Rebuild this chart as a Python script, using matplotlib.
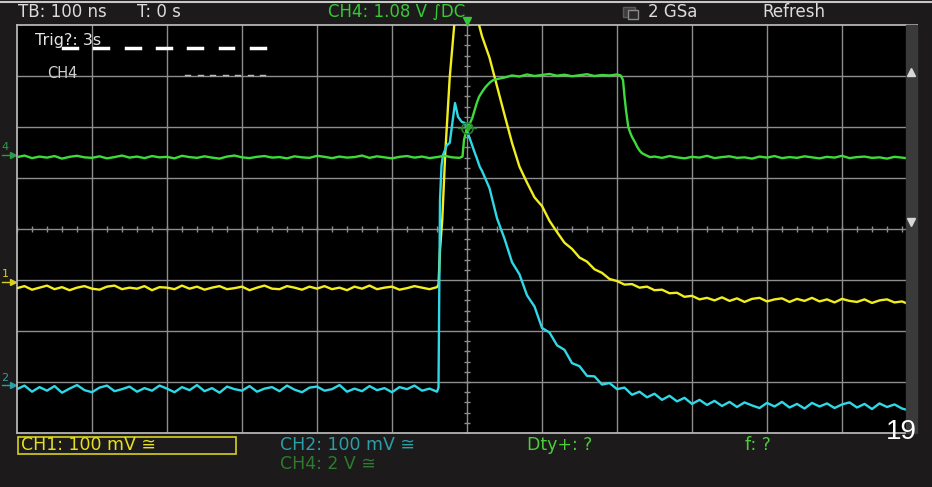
import numpy as np
import matplotlib.pyplot as plt
from matplotlib.patches import Rectangle
from matplotlib.lines import Line2D
from matplotlib.transforms import blended_transform_factory

# ---- scope settings ----
tb_ns = 100
ch1_scale, ch2_scale, ch4_scale = 100, 100, 2     # mV/div, mV/div, V/div
ch1_pos, ch2_pos, ch4_pos = -1.04, -3.06, 1.45     # ground markers (div)
trig_level = 1.08                                  # V on CH4

# ---- CH1 (yellow), mV ----
ch1_t = np.concatenate([np.arange(-600, -39, 10),
                        [-38, -36, -33, -29, -23, -17, -10, -4, 2, 8, 15],
                        np.arange(20, 581, 10), [585]])
ch1_mv = [-12, -8, -15, -11, -7, -14, -10, -16, -11, -8,
          -13, -15, -9, -7, -14, -11, -13, -8, -16, -10,
          -11, -14, -7, -13, -9, -15, -11, -8, -14, -12,
          -9, -16, -11, -7, -13, -14, -8, -11, -15, -9,
          -13, -8, -14, -11, -16, -9, -13, -7, -14, -11,
          -9, -15, -12, -8, -11, -14, -10,
          -5, 63, 122, 253, 402, 504, 575, 605, 598, 560, 510,
          482, 440, 384, 328, 273, 226, 195, 166, 149, 120,
          98, 77, 65, 48, 40, 25, 18, 6, 2, -5,
          -4, -11, -9, -16, -15, -22, -21, -29, -27, -34,
          -31, -36, -30, -37, -32, -39, -33, -31, -38, -34,
          -32, -39, -33, -37, -31, -38, -34, -40, -33, -37,
          -39, -34, -41, -36, -34, -40, -38,
          -41]

# ---- CH2 (cyan), mV ----
ch2_t = np.concatenate([np.arange(-600, -39, 10),
                        [-38, -37, -36, -34, -32, -29, -27, -23, -19, -16,
                         -14, -12, -9, -7, -3, 1, 5, 9, 13, 17],
                        np.arange(20, 581, 10), [585]])
ch2_mv = [-8, -1, -13, -4, -11, -2, -15, -7, 0, -10,
          -14, -5, -1, -12, -8, -3, -13, -6, -11, -1,
          -7, -14, -4, -10, 0, -12, -6, -15, -3, -8,
          -11, -2, -13, -7, -4, -12, -1, -9, -14, -5,
          -3, -11, -8, 0, -13, -7, -12, -2, -10, -6,
          -14, -4, -8, -1, -11, -7, -13,
          -5, 167, 363, 430, 451, 462, 470, 475, 520, 553,
          540, 526, 520, 516, 514, 494, 478, 461, 445, 428,
          420, 386, 327, 287, 241, 217, 176, 154, 112, 103,
          78, 69, 43, 37, 18, 17, 1, 4, -8, -5,
          -19, -13, -24, -17, -29, -21, -32, -25, -37, -29,
          -39, -31, -41, -33, -43, -34, -40, -45, -35, -42,
          -33, -44, -37, -46, -35, -42, -36, -45, -38, -34,
          -44, -37, -47, -36, -43, -38, -46,
          -48]

# ---- CH4 (green), V ----
ch4_t = np.concatenate([np.arange(-600, -9, 10),
                        [-6, -4, -1, 1, 4, 7, 10, 13, 16, 20, 24, 27, 31, 35, 40],
                        np.arange(50, 201, 10),
                        [205, 208, 210, 212, 215, 218, 220, 224, 227, 230, 233, 238, 244],
                        np.arange(250, 581, 10), [585]])
ch4_v = [-0.08, -0.02, -0.12, -0.06, -0.10, -0.04, -0.14, -0.07, -0.03, -0.09,
         -0.11, -0.05, -0.13, -0.08, -0.02, -0.10, -0.06, -0.12, -0.04, -0.09,
         -0.07, -0.13, -0.03, -0.08, -0.11, -0.05, -0.10, -0.14, -0.06, -0.02,
         -0.09, -0.12, -0.07, -0.04, -0.10, -0.08, -0.13, -0.05, -0.09, -0.11,
         -0.03, -0.07, -0.12, -0.06, -0.10, -0.08, -0.02, -0.11, -0.05, -0.09,
         -0.13, -0.07, -0.04, -0.10, -0.06, -0.12, -0.08, -0.03, -0.09, -0.11,
         -0.06, 0.59, 0.95, 1.10, 1.25, 1.45, 1.75, 2.04, 2.28, 2.47,
         2.64, 2.74, 2.86, 2.94, 2.98,
         3.04, 3.12, 3.08, 3.16, 3.10, 3.14, 3.18, 3.11, 3.15, 3.09,
         3.13, 3.17, 3.10, 3.14, 3.12, 3.16,
         3.12, 2.94, 2.30, 1.76, 1.10, 0.85, 0.71, 0.50, 0.32, 0.18,
         0.08, 0.00, -0.08,
         -0.06, -0.11, -0.04, -0.09, -0.13, -0.07, -0.10, -0.03, -0.12, -0.08,
         -0.05, -0.11, -0.09, -0.14, -0.06, -0.10, -0.04, -0.12, -0.08, -0.11,
         -0.05, -0.09, -0.13, -0.07, -0.10, -0.03, -0.12, -0.08, -0.06, -0.11,
         -0.09, -0.14, -0.07, -0.10,
         -0.12]

W, H = 932, 487
bg = '#1c1a1a'
grid_c = '#8e8e8e'
yel, cyan, grn = '#f2ee1e', '#2fd8e6', '#3ddc3a'

fig = plt.figure(figsize=(W / 100, H / 100), dpi=100, facecolor=bg)
ax = fig.add_axes([17 / W, 54 / H, 900 / W, 408 / H], facecolor='black')
ax.set_xlim(-6 * tb_ns, 6 * tb_ns)
ax.set_ylim(-4, 4)
ax.set_xticks([])
ax.set_yticks([])
for s in ax.spines.values():
    s.set_color('#b4b4b4')
    s.set_linewidth(1.3)

# graticule
for x in range(-5, 6):
    ax.axvline(x * tb_ns, color=grid_c, lw=1, zorder=1)
for y in range(-3, 4):
    ax.axhline(y, color=grid_c, lw=1, zorder=1)
ax.plot(np.arange(-600, 601, 20), np.zeros(61), ls='', marker='|', ms=5, mew=1, color=grid_c, zorder=1)
ax.plot(np.zeros(41), np.arange(-4, 4.01, 0.2), ls='', marker='_', ms=5, mew=1, color=grid_c, zorder=1)

# traces
ax.plot(ch1_t, ch1_pos + np.array(ch1_mv) / ch1_scale, color=yel, lw=1.7, zorder=3)
ax.plot(ch2_t, ch2_pos + np.array(ch2_mv) / ch2_scale, color=cyan, lw=1.7, zorder=4)
ax.plot(ch4_t, ch4_pos + np.array(ch4_v) / ch4_scale, color=grn, lw=1.7, zorder=5)

# trigger markers
trig_div = ch4_pos + trig_level / ch4_scale
ax.plot([0], [trig_div], marker='o', ms=8, mfc='none', mec='#2f7a2f', mew=1.2, zorder=6)
ax.plot([-12, 12], [trig_div, trig_div], color='#2f7a2f', lw=1, zorder=6)
ax.plot([0], [4.08], marker='v', ms=6, color='#39c43a', clip_on=False, zorder=7)

# scroll bar on the right
ax.add_patch(Rectangle(((906 - 17) / 900, 0), 11 / 900, 1, transform=ax.transAxes,
                       color='#3a3a3a', zorder=8, clip_on=False))
ax.plot([(911 - 17) / 900], [(433 - 72) / 408], marker='^', ms=6, color='#d8d8d8',
        transform=ax.transAxes, zorder=9, clip_on=False)
ax.plot([(911 - 17) / 900], [(433 - 222) / 408], marker='v', ms=6, color='#d8d8d8',
        transform=ax.transAxes, zorder=9, clip_on=False)
ax.plot([(902 - 17) / 900], [trig_div], marker='v', ms=4, color='#2fa82f', zorder=9)

# channel markers on the left
bl = blended_transform_factory(ax.transAxes, ax.transData)
for name, pos, col in [('4', ch4_pos, '#2f9a4a'), ('1', ch1_pos, '#d8d020'), ('2', ch2_pos, '#2a9fa8')]:
    ax.plot([-0.017, -0.004], [pos, pos], color=col, lw=1, transform=bl, clip_on=False)
    ax.plot([-0.004], [pos], marker='>', ms=4, color=col, transform=bl, clip_on=False)
    ax.text(-0.0135, pos + 0.05, name, color=col, fontsize=8, ha='center', va='bottom',
            transform=bl, clip_on=False)

# figure-level decorations
fig.add_artist(Line2D([0, 1], [1 - 1.5 / H, 1 - 1.5 / H], color='#c8c8c8', lw=1.5))


def ftext(px, py, s, **kw):
    fig.text(px / W, 1 - py / H, s, va='center', **kw)


ftext(18, 12, 'TB: 100 ns', color='#dcdcdc', fontsize=12)
ftext(137, 12, 'T: 0 s', color='#dcdcdc', fontsize=12)
ftext(328, 12, 'CH4: 1.08 V ∫DC', color='#36c936', fontsize=12)
ftext(648, 12, '2 GSa', color='#dcdcdc', fontsize=12)
ftext(762, 12, 'Refresh', color='#dcdcdc', fontsize=12)
fig.add_artist(Rectangle((623 / W, 1 - 17 / H), 12 / W, 10 / H, facecolor='#3c3c3c',
                         edgecolor='#5a5a5a', lw=1))
fig.add_artist(Rectangle((628 / W, 1 - 19 / H), 10 / W, 9 / H, facecolor='#2a2a2a',
                         edgecolor='#8a8a8a', lw=1))

ftext(35, 41, 'Trig?: 3s', color='#e4e4e4', fontsize=11.5)
for k in range(7):
    x0 = 63 + k * 31.3
    fig.add_artist(Line2D([x0 / W, (x0 + 14) / W], [1 - 48 / H, 1 - 48 / H], color='white', lw=2.5))
ftext(47, 73, 'CH4', color='#cfcfcf', fontsize=10.5)
for k in range(7):
    x0 = 185 + k * 12.5
    fig.add_artist(Line2D([x0 / W, (x0 + 5) / W], [1 - 75 / H, 1 - 75 / H], color='#bcbcbc', lw=1))

fig.add_artist(Rectangle((18 / W, 1 - 454 / H), 218 / W, 17 / H, fill=False,
                         edgecolor='#d8d020', lw=1.2))
ftext(21, 445, 'CH1: 100 mV ≅', color='#e6e020', fontsize=12.5)
ftext(280, 445, 'CH2: 100 mV ≅', color='#2a9fa8', fontsize=12.5)
ftext(280, 464, 'CH4: 2 V ≅', color='#2e7a30', fontsize=12.5)
ftext(527, 445, 'Dty+: ?', color='#4ccc3c', fontsize=12.5)
ftext(745, 445, 'f: ?', color='#4ccc3c', fontsize=12.5)
ftext(886, 432, '19', color='white', fontsize=20,
      family=['Liberation Sans Narrow', 'Liberation Sans', 'DejaVu Sans'])

fig.savefig('out.png', dpi=100, facecolor=fig.get_facecolor())
